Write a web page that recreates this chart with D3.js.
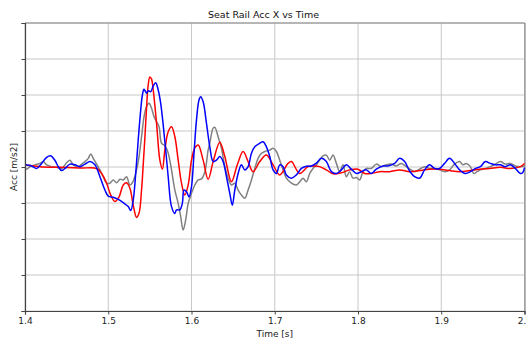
<!DOCTYPE html>
<html><head><meta charset="utf-8">
<script src="https://cdn.jsdelivr.net/npm/d3@7"></script>
<style>body{margin:0;background:#fff;}svg{display:block;font-family:"DejaVu Sans",sans-serif;}</style>
</head><body><svg id="c" width="526" height="339"></svg>
<script>
const title = "Seat Rail Acc X vs Time";
const xLabel = "Time [s]";
const yLabel = "Acc [m/s2]";
const xTicks = [1.4, 1.5, 1.6, 1.7, 1.8, 1.9, 2.0];
const yTicks = [-4, -3, -2, -1, 0, 1, 2, 3, 4];

const grayT = [1.400,1.402,1.406,1.412,1.418,1.422,1.426,1.432,1.438,1.444,1.450,1.454,1.458,1.464,1.468,1.472,1.476,1.479,1.482,1.486,1.490,1.494,1.498,1.502,1.506,1.510,1.514,1.518,1.522,1.526,1.530,1.534,1.537,1.540,1.543,1.546,1.549,1.552,1.555,1.558,1.561,1.564,1.567,1.570,1.573,1.576,1.580,1.584,1.587,1.590,1.593,1.596,1.600,1.604,1.608,1.612,1.616,1.620,1.622,1.626,1.628,1.632,1.636,1.640,1.644,1.648,1.652,1.656,1.660,1.664,1.668,1.672,1.676,1.680,1.684,1.688,1.694,1.698,1.702,1.706,1.710,1.714,1.720,1.726,1.730,1.734,1.738,1.742,1.746,1.750,1.754,1.758,1.762,1.766,1.770,1.774,1.778,1.782,1.786,1.790,1.794,1.798,1.802,1.806,1.810,1.816,1.822,1.828,1.834,1.840,1.846,1.852,1.858,1.864,1.868,1.874,1.880,1.886,1.892,1.898,1.904,1.910,1.916,1.922,1.926,1.930,1.935,1.939,1.943,1.947,1.953,1.959,1.965,1.971,1.977,1.983,1.989,1.995,2.000];
const grayV = [-0.01,-0.06,0.01,0.06,0.10,0.15,0.06,0.01,-0.01,-0.04,0.12,0.19,0.06,0.01,0.08,0.15,0.24,0.36,0.24,0.08,-0.08,-0.27,-0.45,-0.45,-0.36,-0.44,-0.34,-0.36,-0.27,-0.50,-0.39,-0.08,0.29,0.84,1.40,1.68,1.77,1.63,1.40,1.26,1.12,0.66,0.61,0.52,0.29,-0.08,-0.64,-1.01,-1.38,-1.75,-1.47,-1.01,-0.73,-0.50,-0.36,-0.33,-0.14,0.47,0.66,1.08,1.10,0.84,0.52,0.01,-0.31,-0.50,-0.45,-0.64,-0.78,-0.87,-0.64,-0.36,-0.04,0.24,0.38,0.43,0.47,0.52,0.43,0.19,-0.08,-0.31,-0.45,-0.50,-0.41,-0.31,-0.41,-0.18,-0.04,0.06,0.19,0.31,0.33,0.19,0.33,0.10,-0.13,0.06,-0.27,-0.13,-0.31,-0.29,-0.36,-0.13,-0.04,-0.04,0.08,0.01,0.06,0.08,0.03,0.10,0.01,-0.08,-0.13,-0.06,0.01,-0.04,-0.04,-0.08,-0.13,-0.08,0.08,0.15,0.06,0.10,0.01,-0.18,-0.13,-0.08,-0.04,0.01,0.08,0.15,0.08,0.10,0.03,0.01,0.03];

const redT = [1.400,1.418,1.442,1.466,1.486,1.492,1.498,1.503,1.508,1.513,1.518,1.522,1.526,1.530,1.534,1.537,1.540,1.542,1.544,1.546,1.548,1.550,1.552,1.554,1.558,1.562,1.565,1.568,1.572,1.576,1.580,1.584,1.588,1.592,1.596,1.600,1.604,1.608,1.614,1.620,1.626,1.634,1.640,1.648,1.655,1.662,1.668,1.674,1.682,1.690,1.698,1.706,1.716,1.720,1.730,1.740,1.748,1.754,1.762,1.770,1.780,1.790,1.800,1.808,1.816,1.826,1.838,1.850,1.862,1.874,1.886,1.898,1.910,1.922,1.934,1.946,1.958,1.971,1.983,1.995,2.000];
const redV = [0.06,0.01,-0.01,-0.03,-0.04,-0.18,-0.45,-0.78,-0.96,-0.83,-0.50,-0.44,-0.59,-1.06,-1.40,-1.28,-0.64,0.06,0.81,1.64,2.28,2.50,2.44,2.14,1.22,0.19,-0.06,0.47,0.98,1.12,0.84,0.19,-0.45,-0.78,-0.50,0.19,0.53,0.61,0.19,-0.34,0.15,0.69,0.29,-0.41,0.06,0.43,0.15,-0.13,0.15,0.33,0.06,-0.22,0.10,0.15,-0.18,0.01,0.03,0.01,-0.08,-0.19,-0.16,-0.08,-0.06,-0.18,-0.18,-0.13,-0.13,-0.08,-0.13,-0.10,-0.06,-0.06,-0.10,-0.13,-0.10,-0.06,-0.04,-0.01,-0.04,0.01,0.10];

const blueT = [1.400,1.402,1.408,1.414,1.420,1.426,1.431,1.436,1.440,1.444,1.448,1.454,1.460,1.466,1.472,1.478,1.484,1.490,1.496,1.500,1.506,1.512,1.518,1.524,1.527,1.530,1.533,1.536,1.539,1.541,1.543,1.546,1.548,1.551,1.554,1.557,1.560,1.563,1.566,1.569,1.572,1.576,1.580,1.582,1.586,1.589,1.591,1.594,1.597,1.600,1.603,1.606,1.609,1.611,1.614,1.618,1.622,1.626,1.630,1.634,1.638,1.642,1.646,1.649,1.652,1.656,1.660,1.664,1.668,1.672,1.676,1.682,1.686,1.690,1.694,1.698,1.702,1.706,1.710,1.714,1.720,1.726,1.732,1.738,1.744,1.750,1.756,1.762,1.768,1.774,1.780,1.786,1.792,1.798,1.804,1.810,1.816,1.822,1.830,1.836,1.844,1.850,1.856,1.862,1.868,1.874,1.880,1.886,1.892,1.898,1.904,1.910,1.916,1.922,1.929,1.935,1.941,1.947,1.953,1.959,1.965,1.971,1.977,1.983,1.989,1.995,1.998,2.000];
const blueV = [0.08,0.06,0.03,-0.04,0.10,0.27,0.31,0.18,0.01,-0.10,-0.04,0.08,0.06,0.01,0.08,0.15,0.06,-0.27,-0.64,-0.81,-0.84,-0.90,-0.99,-1.10,-1.21,-0.92,-0.18,0.75,1.58,2.00,2.16,2.05,2.12,2.09,2.25,2.34,2.14,1.77,1.17,0.47,-0.27,-1.10,-1.29,-1.19,-1.19,-1.01,-0.64,-0.69,-0.83,-0.55,0.38,1.31,1.86,1.95,1.81,1.21,0.56,0.15,0.19,0.29,0.15,-0.27,-0.73,-1.06,-0.64,-0.18,0.06,-0.08,0.01,0.38,0.56,0.66,0.70,0.56,0.29,-0.08,-0.18,0.06,0.01,-0.22,-0.31,-0.22,-0.04,0.02,0.03,0.11,0.24,0.15,-0.13,-0.18,-0.08,0.06,-0.06,-0.18,-0.13,-0.08,-0.18,-0.06,0.03,0.03,0.10,0.24,0.15,-0.11,-0.27,-0.31,-0.08,0.06,-0.04,-0.04,0.10,0.24,0.10,-0.08,-0.18,-0.13,-0.04,0.01,0.15,0.10,0.06,0.06,0.01,0.06,-0.04,-0.18,-0.15,-0.02];

const svg = d3.select("#c");
const m = {l: 25, r: 524.5, t: 23, b: 311};
const x = d3.scaleLinear().domain([1.4, 2.0]).range([m.l, m.r]);
const y = d3.scaleLinear().domain([-4, 4]).range([m.b, m.t]);

// grid
svg.append("g").selectAll("line").data(xTicks).join("line")
  .attr("x1", d => x(d)).attr("x2", d => x(d)).attr("y1", m.t).attr("y2", m.b)
  .attr("stroke", "#c8c8c8").attr("stroke-width", 1);
svg.append("g").selectAll("line").data(yTicks).join("line")
  .attr("x1", m.l).attr("x2", m.r).attr("y1", d => y(d)).attr("y2", d => y(d))
  .attr("stroke", "#c8c8c8").attr("stroke-width", 1);

// frame top/right
svg.append("line").attr("x1", m.l).attr("x2", m.r + 0.5).attr("y1", m.t).attr("y2", m.t).attr("stroke", "#888").attr("stroke-width", 1.2);
svg.append("line").attr("x1", m.r + 0.5).attr("x2", m.r + 0.5).attr("y1", m.t).attr("y2", m.b).attr("stroke", "#888").attr("stroke-width", 1.2);

// data
const clip = svg.append("clipPath").attr("id", "clp").append("rect")
  .attr("x", m.l).attr("y", m.t).attr("width", m.r - m.l + 2).attr("height", m.b - m.t);
const line = d3.line().x(d => x(d[0])).y(d => y(d[1])).curve(d3.curveCatmullRom.alpha(0.5));
const series = [
  {t: grayT, v: grayV, c: "#808080"},
  {t: redT, v: redV, c: "#ff0000"},
  {t: blueT, v: blueV, c: "#0000ff"}
];
const gData = svg.append("g").attr("clip-path", "url(#clp)");
series.forEach(s => {
  gData.append("path").datum(s.t.map((t, i) => [t, s.v[i]]))
    .attr("d", line).attr("fill", "none").attr("stroke", s.c)
    .attr("stroke-width", 1.5).attr("stroke-linejoin", "round");
});

// axes
const xAxis = d3.axisBottom(x).tickValues(xTicks).tickFormat(d3.format(".1f")).tickSize(3.5).tickPadding(3);
const gx = svg.append("g").attr("transform", `translate(0,${m.b})`).call(xAxis);
gx.select(".domain").attr("stroke", "#444").attr("stroke-width", 1.2);
gx.selectAll(".tick line").attr("stroke", "#444");
gx.selectAll("text").attr("font-size", "9px").attr("fill", "#222").attr("font-family", "DejaVu Sans");

const yAxis = d3.axisLeft(y).tickValues(yTicks).tickFormat("").tickSize(3.5);
const gy = svg.append("g").attr("transform", `translate(${m.l},0)`).call(yAxis);
gy.select(".domain").attr("stroke", "#444").attr("stroke-width", 1.2);
gy.selectAll(".tick line").attr("stroke", "#444");

// labels
svg.append("text").attr("x", 263.5).attr("y", 17.5).attr("text-anchor", "middle")
  .attr("font-size", "9.5px").attr("fill", "#111").text(title);
svg.append("text").attr("x", (m.l + m.r) / 2).attr("y", 337).attr("text-anchor", "middle")
  .attr("font-size", "9px").attr("fill", "#222").text(xLabel);
svg.append("text").attr("transform", `translate(17,${(m.t + m.b) / 2}) rotate(-90)`)
  .attr("text-anchor", "middle").attr("font-size", "9px").attr("fill", "#222").text(yLabel);
</script></body></html>
